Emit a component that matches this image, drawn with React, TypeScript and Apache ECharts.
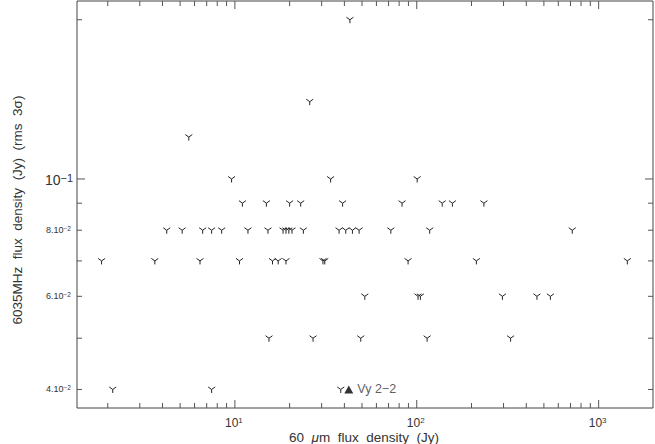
import React, { useEffect, useRef } from "react";
import * as echarts from "echarts";

// Axis ranges (data units)
const X_MIN = 1.355;
const X_MAX = 1990;
const Y_MIN = 0.0369;
const Y_MAX = 0.217;

// 60 um flux density (Jy) of sources, grouped by 6035 MHz flux-density level (Jy)
const X_AT_0200 = [42.9];
const X_AT_0140 = [25.8];
const X_AT_0120 = [5.58];
const X_AT_0100 = [9.59, 33.6, 100.5];
const X_AT_0090 = [11.0, 14.9, 20.0, 23.0, 39.1, 83.0, 138, 157, 234];
const X_AT_0080 = [4.22, 5.13, 6.65, 7.45, 8.46, 11.8, 15.2, 18.4, 19.1, 19.8, 20.6, 23.8, 37.4, 40.7, 44.3, 48.2, 72.0, 117.8, 716];
const X_AT_0070 = [1.85, 3.63, 6.43, 10.6, 16.1, 17.3, 19.1, 30.5, 31.2, 89.6, 212.7, 1438];
const X_AT_0060 = [51.8, 101.6, 104.7, 295.8, 458, 543];
const X_AT_0050 = [15.4, 26.9, 49.2, 114, 328];
const X_AT_0040 = [2.13, 7.45, 38.2];

// Highlighted source
const VY22 = [42.3, 0.04];
const VY22_NAME = "Vy 2\u22122";

// Ticks and tick labels
const X_MAJOR_TICKS = [10, 100, 1000];
const X_MINOR_TICKS = [2, 3, 4, 5, 6, 7, 8, 9, 20, 30, 40, 50, 60, 70, 80, 90, 200, 300, 400, 500, 600, 700, 800, 900];
const Y_MAJOR_TICKS = [0.1];
const Y_MINOR_TICKS = [0.04, 0.05, 0.06, 0.07, 0.08, 0.09, 0.2];
const X_LABEL_VALUES = [10, 100, 1000];
const X_LABEL_EXP = ["1", "2", "3"];
const Y_LABEL_VALUES = [0.04, 0.06, 0.08, 0.1];
const Y_LABEL_MANT = ["4.10", "6.10", "8.10", "10"];
const Y_LABEL_EXP = ["\u22122", "\u22122", "\u22122", "\u22121"];

const X_TITLE = "60  {i|\u03bc}m  flux  density  (Jy)";
const Y_TITLE = "6035MHz  flux  density  (Jy)  (rms  3\u03c3)";

const FONT = "'Liberation Sans', Arial, Helvetica, sans-serif";
const INK = "#333";

const LEVELS: [number, number[]][] = [
  [0.2, X_AT_0200],
  [0.14, X_AT_0140],
  [0.12, X_AT_0120],
  [0.1, X_AT_0100],
  [0.09, X_AT_0090],
  [0.08, X_AT_0080],
  [0.07, X_AT_0070],
  [0.06, X_AT_0060],
  [0.05, X_AT_0050],
  [0.04, X_AT_0040],
];

export default function App() {
  const ref = useRef<HTMLDivElement>(null);

  useEffect(() => {
    if (!ref.current) return;
    const chart = echarts.init(ref.current, null, { renderer: "svg" });

    const points: number[][] = [];
    LEVELS.forEach(([y, xs]) => xs.forEach((x) => points.push([x, y])));

    const xTickData = [
      ...X_MAJOR_TICKS.map((v) => [v, Y_MIN, 1]),
      ...X_MINOR_TICKS.map((v) => [v, Y_MIN, 0]),
    ];
    const yTickData = [
      ...Y_MAJOR_TICKS.map((v) => [X_MIN, v, 1]),
      ...Y_MINOR_TICKS.map((v) => [X_MIN, v, 0]),
    ];
    const xLabelData = X_LABEL_VALUES.map((v, i) => [v, Y_MIN, i]);
    const yLabelData = Y_LABEL_VALUES.map((v, i) => [X_MIN, v, i]);

    const tickStyle = { stroke: "#555", lineWidth: 1 };

    const option: any = {
      animation: false,
      grid: {
        left: 77,
        right: 2,
        top: 1,
        bottom: 36,
        show: true,
        borderColor: "#444",
        borderWidth: 1,
        backgroundColor: "transparent",
      },
      xAxis: {
        type: "log",
        logBase: 10,
        min: X_MIN,
        max: X_MAX,
        axisLine: { show: false },
        axisTick: { show: false },
        axisLabel: { show: false },
        splitLine: { show: false },
      },
      yAxis: {
        type: "log",
        logBase: 10,
        min: Y_MIN,
        max: Y_MAX,
        axisLine: { show: false },
        axisTick: { show: false },
        axisLabel: { show: false },
        splitLine: { show: false },
      },
      series: [
        {
          type: "custom",
          data: xTickData,
          silent: true,
          renderItem: (params: any, api: any) => {
            const v = api.value(0);
            const len = api.value(2) ? 8 : 5;
            const b = api.coord([v, Y_MIN]);
            const t = api.coord([v, Y_MAX]);
            return {
              type: "group",
              children: [
                { type: "line", shape: { x1: b[0], y1: b[1], x2: b[0], y2: b[1] - len }, style: tickStyle },
                { type: "line", shape: { x1: t[0], y1: t[1], x2: t[0], y2: t[1] + len }, style: tickStyle },
              ],
            };
          },
        },
        {
          type: "custom",
          data: yTickData,
          silent: true,
          renderItem: (params: any, api: any) => {
            const v = api.value(1);
            const len = api.value(2) ? 8 : 5;
            const l = api.coord([X_MIN, v]);
            const r = api.coord([X_MAX, v]);
            return {
              type: "group",
              children: [
                { type: "line", shape: { x1: l[0], y1: l[1], x2: l[0] + len, y2: l[1] }, style: tickStyle },
                { type: "line", shape: { x1: r[0], y1: r[1], x2: r[0] - len, y2: r[1] }, style: tickStyle },
              ],
            };
          },
        },
        {
          type: "custom",
          data: xLabelData,
          silent: true,
          renderItem: (params: any, api: any) => {
            const i = api.value(2);
            const p = api.coord([api.value(0), Y_MIN]);
            return {
              type: "text",
              style: {
                x: p[0] - 1,
                y: p[1] + 8,
                text: `{b|10}{s|${X_LABEL_EXP[i]}}`,
                align: "center",
                verticalAlign: "top",
                fill: INK,
                rich: {
                  b: { fontSize: 12, fontFamily: FONT, fill: INK, lineHeight: 13 },
                  s: { fontSize: 8, fontFamily: FONT, fill: INK, lineHeight: 8, verticalAlign: "top" },
                },
              },
            };
          },
        },
        {
          type: "custom",
          data: yLabelData,
          silent: true,
          renderItem: (params: any, api: any) => {
            const i = api.value(2);
            const p = api.coord([X_MIN, api.value(1)]);
            const big = Y_LABEL_MANT[i] === "10";
            return {
              type: "text",
              style: {
                x: p[0] - (big ? 4 : 6),
                y: p[1] + (big ? 1 : 0),
                text: `{b|${Y_LABEL_MANT[i]}}{s|${Y_LABEL_EXP[i]}}`,
                align: "right",
                verticalAlign: "middle",
                fill: INK,
                rich: big
                  ? {
                      b: { fontSize: 14, fontFamily: FONT, fill: INK, lineHeight: 15 },
                      s: { fontSize: 11, fontFamily: FONT, fill: INK, lineHeight: 11, verticalAlign: "top" },
                    }
                  : {
                      b: { fontSize: 9, fontFamily: FONT, fill: INK, lineHeight: 10 },
                      s: { fontSize: 6.5, fontFamily: FONT, fill: INK, lineHeight: 7, verticalAlign: "top" },
                    },
              },
            };
          },
        },
        {
          type: "custom",
          data: points,
          silent: true,
          renderItem: (params: any, api: any) => {
            const p = api.coord([api.value(0), api.value(1)]);
            const s = { stroke: "#222", lineWidth: 1, fill: null };
            return {
              type: "group",
              children: [
                {
                  type: "polyline",
                  shape: { points: [[p[0] - 3.5, p[1] - 2.5], [p[0], p[1]], [p[0] + 3.5, p[1] - 2.5]] },
                  style: s,
                },
                { type: "line", shape: { x1: p[0], y1: p[1], x2: p[0], y2: p[1] + 3.5 }, style: s },
              ],
            };
          },
        },
        {
          type: "scatter",
          data: [VY22],
          symbol: "triangle",
          symbolSize: [9, 8],
          itemStyle: { color: "#000" },
          label: {
            show: true,
            position: "right",
            distance: 4,
            formatter: VY22_NAME,
            fontSize: 12.5,
            fontFamily: FONT,
            color: INK,
          },
          z: 5,
        },
      ],
      graphic: [
        {
          type: "text",
          x: 364,
          y: 437,
          style: {
            text: X_TITLE,
            fontSize: 13.5,
            fontFamily: FONT,
            fill: INK,
            align: "center",
            verticalAlign: "middle",
            rich: {
              i: { fontSize: 13.5, fontFamily: FONT, fontStyle: "italic", fill: INK },
            },
          },
        },
        {
          type: "text",
          x: 17,
          y: 210,
          rotation: Math.PI / 2,
          style: {
            text: Y_TITLE,
            fontSize: 13.5,
            fontFamily: FONT,
            fill: INK,
            align: "center",
            verticalAlign: "middle",
          },
        },
      ],
    };

    chart.setOption(option);
    return () => chart.dispose();
  }, []);

  return (
    <div
      ref={ref}
      style={{ position: "absolute", left: 0, top: 0, width: 655, height: 444, background: "#fff" }}
    />
  );
}
